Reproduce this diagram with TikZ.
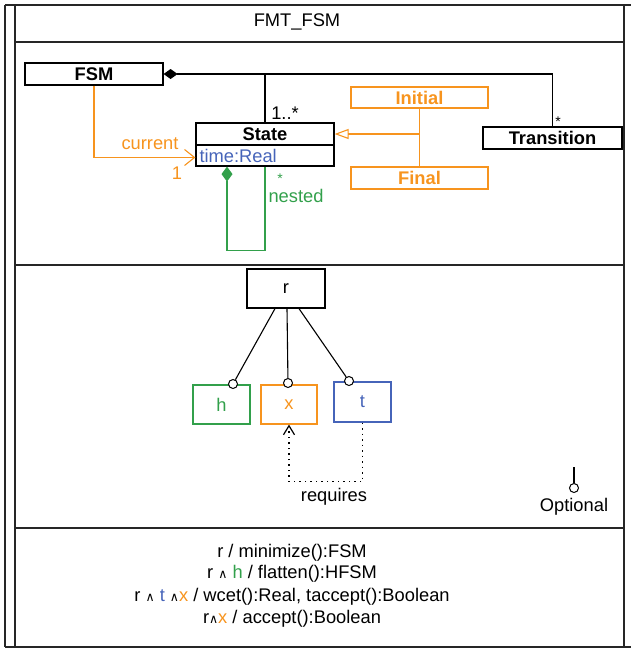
\documentclass[tikz,border=0pt]{standalone}
\usepackage{fontspec}
\setmainfont{Liberation Sans}
\newfontfamily\dejavu{DejaVu Sans}
\usetikzlibrary{arrows.meta,calc}
\definecolor{cOr}{RGB}{247,148,30}
\definecolor{cGr}{RGB}{50,160,75}
\definecolor{cBl}{RGB}{70,100,185}
\newcommand{\wg}{{\dejavu\fontsize{12.5}{12}\selectfont ∧}}
\tikzset{
  frame/.style={line width=1.5pt, draw=black!85},
  box/.style={draw, line width=1.2pt, inner sep=0pt, font=\fontsize{18.3}{21}\selectfont\bfseries},
  fbox/.style={draw, line width=1.2pt, inner sep=0pt},
  lab/.style={inner sep=0pt},
  optc/.style={circle, draw, fill=white, line width=1pt, inner sep=0pt, minimum size=9pt},
  conn/.style={line width=1.1pt},
}
\begin{document}
\begin{tikzpicture}[x=1pt,y=-1pt,font=\fontsize{18.3}{21}\selectfont]
\useasboundingbox (0,0) rectangle (631,648);
% frame
\draw[frame] (5,5) -- (631,5);
\draw[frame] (5,5) -- (5,647);
\draw[frame] (15,5) -- (15,647);
\draw[frame] (624,5) -- (624,647);
\draw[frame] (5,647) -- (631,647);
\draw[frame] (15,42) -- (624,42);
\draw[frame] (15,265) -- (624,265);
\draw[frame] (15,528) -- (624,528);
\node[lab] (title) at (297,22) {FMT\_FSM};

% class diagram
\node[box, minimum width=138pt, minimum height=22pt] (fsm) at (94,74) {FSM};
\node[box, minimum width=138pt, minimum height=22pt] (state) at (265,134) {State};
\node[fbox, minimum height=21pt, text width=131pt, inner xsep=3.5pt, align=left, text=cBl] (attr) at (265,155.5) {time:Real};
\node[box, minimum width=139pt, minimum height=22pt] (trans) at (552.5,138) {Transition};
\node[box, draw=cOr, text=cOr, minimum width=137pt, minimum height=21pt] (init) at (419.5,97.5) {Initial};
\node[box, draw=cOr, text=cOr, minimum width=137pt, minimum height=22pt] (final) at (419.5,178) {Final};

\draw[conn, {Diamond[length=14pt,width=10pt]}-] (fsm.east) -| (trans.north);
\draw[conn] (state.north) -- (state.north |- fsm.east);
\node[lab] (m1) at (285,113) {1..*};
\node[lab, font=\fontsize{14}{14}\selectfont] (m2) at (558,122) {*};

\draw[conn, cOr, -{Straight Barb[length=10pt,width=16pt]}] (fsm.south) |- ([yshift=-2pt]attr.west);
\node[lab, text=cOr] (lcur) at (150,144) {current};
\node[lab, text=cOr] (lone) at (177,173) {1};

\draw[conn, cOr] (init.south) -- (final.north);
\draw[conn, cOr, -{Triangle[open, length=14pt, width=10pt]}] (init.south |- state.east) -- (state.east);

\coordinate (nst) at ([xshift=-38pt]attr.south);
\draw[conn, cGr, {Diamond[length=15pt,width=11pt]}-] (nst) -- ++(0,84) -| (attr.south);
\node[lab, text=cGr, font=\fontsize{14}{14}\selectfont] (ns) at (280,179) {*};
\node[lab, text=cGr] (lnest) at (296,196) {nested};

% feature model
\node[fbox, minimum width=78pt, minimum height=39pt] (r) at (286,288.5) {r};
\node[fbox, draw=cGr, text=cGr, minimum width=57pt, minimum height=39pt] (h) at (221.5,404.5) {h};
\node[fbox, draw=cOr, text=cOr, minimum width=56pt, minimum height=39pt] (xb) at (289,404.5) {x};
\node[fbox, draw=cBl, text=cBl, minimum width=57pt, minimum height=40pt] (t) at (362.5,402) {t};
\node[optc] (ch) at (233,384) {};
\node[optc] (cx) at (288,383) {};
\node[optc] (ct) at (349,381) {};
\draw[conn] ([xshift=-11pt]r.south) -- (ch);
\draw[conn] ([xshift=1pt]r.south) -- (cx);
\draw[conn] ([xshift=13pt]r.south) -- (ct);
\draw[line width=1.3pt, dash pattern=on 1.5pt off 4pt, -{Straight Barb[length=9pt,width=11pt,line width=1.2pt]}] (t.south) -- ++(0,59) -| (xb.south);
\node[lab] (req) at (334,497) {requires};

% legend
\coordinate (o1) at (574,467);
\node[optc] (oc) at (574,488) {};
\draw[conn] (o1) -- (oc);
\node[lab] (opt) at (574,507) {Optional};

% operations
\node[lab] (l1) at (292,553) {r / minimize():FSM};
\node[lab] (l2) at (292,574) {r \wg{} \textcolor{cGr}{h} / flatten():HFSM};
\node[lab] (l3) at (292,597) {r \wg{} \textcolor{cBl}{t} \wg\textcolor{cOr}{x} / wcet():Real, taccept():Boolean};
\node[lab] (l4) at (292,619) {r\wg\textcolor{cOr}{x} / accept():Boolean};
\end{tikzpicture}
\end{document}
